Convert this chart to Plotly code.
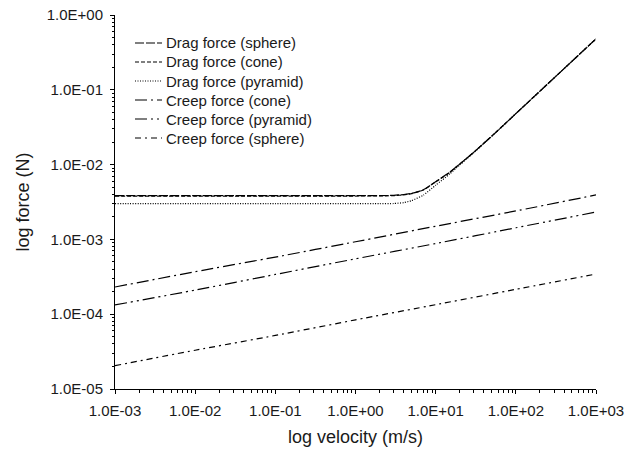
import plotly.graph_objects as go

# velocity (m/s)
v_drag = [1e-3, 1e-2, 1e-1, 1, 2, 3, 4, 5, 7, 10, 15, 20, 30, 50, 100, 200, 500, 1000]
drag_sphere = [3.84e-3, 3.84e-3, 3.84e-3, 3.84e-3, 3.85e-3, 3.88e-3, 3.98e-3, 4.12e-3, 4.6e-3,
               5.9e-3, 7.9e-3, 1.02e-2, 1.47e-2, 2.4e-2, 4.8e-2, 9.6e-2, 0.24, 0.48]
drag_cone = [3.80e-3, 3.80e-3, 3.80e-3, 3.80e-3, 3.81e-3, 3.85e-3, 3.95e-3, 4.09e-3, 4.57e-3,
             5.88e-3, 7.88e-3, 1.02e-2, 1.47e-2, 2.4e-2, 4.8e-2, 9.6e-2, 0.24, 0.48]
drag_pyramid = [3.0e-3, 3.0e-3, 3.0e-3, 3.0e-3, 3.0e-3, 3.02e-3, 3.1e-3, 3.3e-3, 3.9e-3,
                5.3e-3, 7.5e-3, 9.9e-3, 1.45e-2, 2.38e-2, 4.8e-2, 9.6e-2, 0.24, 0.48]

v_creep = [1e-3, 1e-2, 1e-1, 1, 10, 100, 1000]
creep_cone = [2.31e-4, 3.7e-4, 5.8e-4, 9.3e-4, 1.5e-3, 2.4e-3, 3.93e-3]
creep_pyramid = [1.33e-4, 2.1e-4, 3.4e-4, 5.5e-4, 8.8e-4, 1.43e-3, 2.32e-3]
creep_sphere = [2.05e-5, 3.3e-5, 5.2e-5, 8.4e-5, 1.34e-4, 2.15e-4, 3.44e-4]

x_tickvals = [1e-3, 1e-2, 1e-1, 1, 10, 100, 1000]
x_ticktext = ["1.0E-03", "1.0E-02", "1.0E-01", "1.0E+00", "1.0E+01", "1.0E+02", "1.0E+03"]
y_tickvals = [1e-5, 1e-4, 1e-3, 1e-2, 1e-1, 1]
y_ticktext = ["1.0E-05", "1.0E-04", "1.0E-03", "1.0E-02", "1.0E-01", "1.0E+00"]

series_names = ["Drag force (sphere)", "Drag force (cone)", "Drag force (pyramid)",
                "Creep force (cone)", "Creep force (pyramid)", "Creep force (sphere)"]
series_x = [v_drag, v_drag, v_drag, v_creep, v_creep, v_creep]
series_y = [drag_sphere, drag_cone, drag_pyramid, creep_cone, creep_pyramid, creep_sphere]
dashes = ["9px,2px", "4px,2px", "1px,1.5px", "12px,4px,2px,4px",
          "12px,4px,2px,4px,2px,4px", "6px,4px,2px,4px"]

TXT = "#1a1a1a"
fig = go.Figure()
for name, x, y, dash in zip(series_names, series_x, series_y, dashes):
    fig.add_trace(go.Scatter(x=x, y=y, name=name, mode="lines", showlegend=False,
                             line=dict(color="black", width=1.2, dash=dash, shape="spline", smoothing=0.5)))

# manual legend (pixel-based placement within the paper)
W, H = 644, 450
ml, mr, mt, mb = 115, 48, 15, 61
pw, ph = W - ml - mr, H - mt - mb
def px(xp):
    return (xp - ml) / pw
def py(yp):
    return (H - mb - yp) / ph

for i, (name, dash) in enumerate(zip(series_names, dashes)):
    yy = 43 + i * 19
    fig.add_shape(type="line", xref="paper", yref="paper", x0=px(135), x1=px(162), y0=py(yy), y1=py(yy),
                  line=dict(color="black", width=1.2, dash=dash))
    fig.add_annotation(xref="paper", yref="paper", x=px(164), y=py(yy), xanchor="left", yanchor="middle",
                       text=name, showarrow=False, font=dict(size=15, color=TXT))

axis_common = dict(showline=True, linecolor="black", linewidth=1, showgrid=False, zeroline=False,
                   ticks="outside", ticklen=4, tickcolor="black", mirror=False, automargin=False,
                   tickfont=dict(size=15, color=TXT),
                   minor=dict(ticks="outside", ticklen=2.5, tickcolor="black", dtick="D1", showgrid=False))

fig.update_xaxes(type="log", range=[-3, 3], tickmode="array", tickvals=x_tickvals, ticktext=x_ticktext,
                 ticklabelstandoff=4,
                 title=dict(text="log velocity (m/s)", font=dict(size=18, color=TXT), standoff=12),
                 **axis_common)
fig.update_yaxes(type="log", range=[-5, 0], tickmode="array", tickvals=y_tickvals, ticktext=y_ticktext,
                 ticklabelstandoff=4,
                 title=dict(text="log force (N)", font=dict(size=18, color=TXT), standoff=12),
                 **axis_common)

fig.update_layout(
    width=W, height=H,
    margin=dict(l=ml, r=mr, t=mt, b=mb, autoexpand=False),
    paper_bgcolor="white", plot_bgcolor="white",
    font=dict(family="Liberation Sans, Arial, sans-serif", color=TXT),
    showlegend=False,
)

fig.write_html("out.html")
